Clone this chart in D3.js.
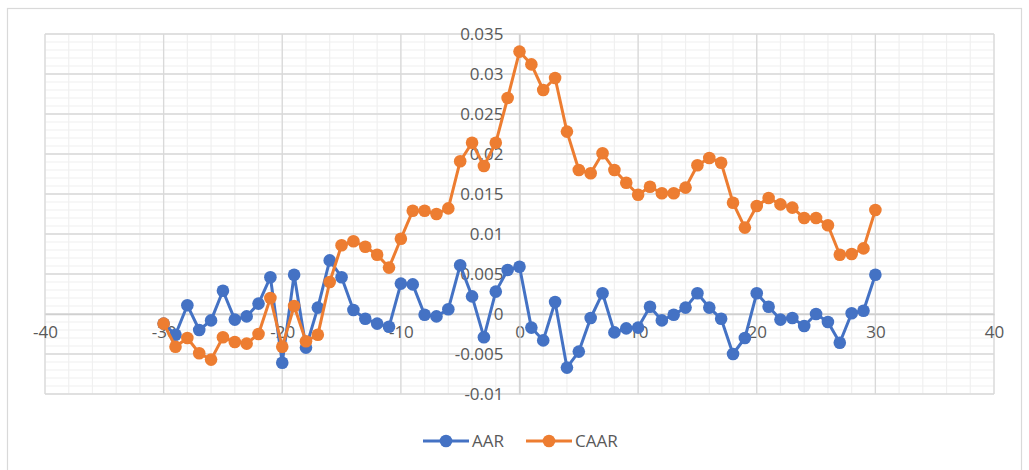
<!DOCTYPE html>
<html>
<head>
<meta charset="utf-8">
<script src="https://cdn.jsdelivr.net/npm/d3@7"></script>
<style>
  html, body { margin: 0; padding: 0; background: #fff; }
  svg { display: block; }
  text { font-family: "Open Sans", "Liberation Sans", sans-serif; fill: #595959; }
</style>
</head>
<body>
<svg id="chart" width="1029" height="470"></svg>
<script>
// Event window (days relative to the event)
const days = d3.range(-30, 31);

// Average abnormal return per day
const aar = [
  -0.0012, -0.0026, 0.0011, -0.0020, -0.0008, 0.0029, -0.0007, -0.0003, 0.0013, 0.0046,
  -0.0061, 0.0049, -0.0042, 0.0008, 0.0067, 0.0046, 0.0005, -0.0006, -0.0012, -0.0016,
  0.0038, 0.0037, -0.0001, -0.0003, 0.0006, 0.0061, 0.0022, -0.0029, 0.0028, 0.0055,
  0.0059,
  -0.0017, -0.0033, 0.0015, -0.0067, -0.0047, -0.0005, 0.0026, -0.0023, -0.0018, -0.0017,
  0.0009, -0.0008, -0.0001, 0.0008, 0.0026, 0.0008, -0.0006, -0.0050, -0.0030, 0.0026,
  0.0009, -0.0007, -0.0005, -0.0015, 0.0000, -0.0010, -0.0036, 0.0001, 0.0004, 0.0049
];

// Cumulative average abnormal return per day
const caar = [
  -0.0012, -0.0041, -0.0030, -0.0049, -0.0057, -0.0029, -0.0035, -0.0037, -0.0025, 0.0020,
  -0.0041, 0.0010, -0.0034, -0.0026, 0.0040, 0.0086, 0.0091, 0.0084, 0.0074, 0.0058,
  0.0094, 0.0129, 0.0129, 0.0125, 0.0132, 0.0191, 0.0214, 0.0185, 0.0214, 0.0270,
  0.0328,
  0.0312, 0.0280, 0.0295, 0.0228, 0.0180, 0.0176, 0.0201, 0.0180, 0.0164, 0.0149,
  0.0159, 0.0151, 0.0151, 0.0158, 0.0186, 0.0195, 0.0189, 0.0139, 0.0108, 0.0135,
  0.0145, 0.0137, 0.0133, 0.0120, 0.0120, 0.0111, 0.0074, 0.0075, 0.0082, 0.0130
];

const xTicks = [-40, -30, -20, -10, 0, 10, 20, 30, 40];
const xTickLabels = ["-40", "-30", "-20", "-10", "0", "10", "20", "30", "40"];
const yTicks = [-0.01, -0.005, 0, 0.005, 0.01, 0.015, 0.02, 0.025, 0.03, 0.035];
const yTickLabels = ["-0.01", "-0.005", "0", "0.005", "0.01", "0.015", "0.02", "0.025", "0.03", "0.035"];

const seriesNames = ["AAR", "CAAR"];
const seriesColors = ["#4472C4", "#ED7D31"];

const svg = d3.select("#chart");

// Chart frame
svg.append("rect")
  .attr("x", 7.5).attr("y", 8.5)
  .attr("width", 1014).attr("height", 480)
  .attr("fill", "#fff")
  .attr("stroke", "#d9d9d9")
  .attr("stroke-width", 1.2);

const x = d3.scaleLinear().domain([-40, 40]).range([45, 994]);
const y = d3.scaleLinear().domain([-0.01, 0.035]).range([394, 34]);

// Minor gridlines
const grid = svg.append("g");
grid.selectAll(".vminor")
  .data(d3.range(-40, 41, 2))
  .join("line")
  .attr("x1", d => x(d)).attr("x2", d => x(d))
  .attr("y1", y(0.035)).attr("y2", y(-0.01))
  .attr("stroke", "#f0f0f0").attr("stroke-width", 1.2);
grid.selectAll(".hminor")
  .data(d3.range(-10, 36, 1).map(v => v / 1000))
  .join("line")
  .attr("x1", x(-40)).attr("x2", x(40))
  .attr("y1", d => y(d)).attr("y2", d => y(d))
  .attr("stroke", "#f0f0f0").attr("stroke-width", 1.2);

// Major gridlines
grid.selectAll(".vmajor")
  .data(xTicks)
  .join("line")
  .attr("x1", d => x(d)).attr("x2", d => x(d))
  .attr("y1", y(0.035)).attr("y2", y(-0.01))
  .attr("stroke", "#d9d9d9").attr("stroke-width", 1.3);
grid.selectAll(".hmajor")
  .data(yTicks)
  .join("line")
  .attr("x1", x(-40)).attr("x2", x(40))
  .attr("y1", d => y(d)).attr("y2", d => y(d))
  .attr("stroke", "#d9d9d9").attr("stroke-width", 1.3);

// Axes crossing at the origin
const xAxis = d3.axisBottom(x).tickValues(xTicks).tickSize(0).tickPadding(12)
  .tickFormat((d, i) => xTickLabels[i]);
const xg = svg.append("g").attr("transform", `translate(0,${y(0)})`).call(xAxis);
xg.select(".domain").attr("stroke", "#d0d0d0").attr("stroke-width", 1.3);
xg.selectAll("text").attr("font-size", 17).attr("fill", "#595959")
  .attr("font-family", "Open Sans, Liberation Sans, sans-serif");

const yAxis = d3.axisLeft(y).tickValues(yTicks).tickSize(0).tickPadding(16)
  .tickFormat((d, i) => yTickLabels[i]);
const yg = svg.append("g").attr("transform", `translate(${x(0)},0)`).call(yAxis);
yg.select(".domain").attr("stroke", "#d0d0d0").attr("stroke-width", 1.3);
yg.selectAll("text").attr("font-size", 17).attr("fill", "#595959")
  .attr("font-family", "Open Sans, Liberation Sans, sans-serif");

// Series lines with markers
const seriesData = [aar, caar];
const line = d3.line().x((d, i) => x(days[i])).y(d => y(d));

seriesData.forEach((vals, s) => {
  const g = svg.append("g");
  g.append("path")
    .datum(vals)
    .attr("d", line)
    .attr("fill", "none")
    .attr("stroke", seriesColors[s])
    .attr("stroke-width", 3)
    .attr("stroke-linejoin", "round");
  g.selectAll("circle")
    .data(vals)
    .join("circle")
    .attr("cx", (d, i) => x(days[i]))
    .attr("cy", d => y(d))
    .attr("r", 6.3)
    .attr("fill", seriesColors[s]);
});

// Legend
const legend = svg.append("g").attr("transform", "translate(0,441)");
const legendX = [423, 526];
seriesNames.forEach((name, s) => {
  const lg = legend.append("g").attr("transform", `translate(${legendX[s]},0)`);
  lg.append("line").attr("x1", 0).attr("x2", 46).attr("y1", 0).attr("y2", 0)
    .attr("stroke", seriesColors[s]).attr("stroke-width", 3);
  lg.append("circle").attr("cx", 23).attr("cy", 0).attr("r", 6.3).attr("fill", seriesColors[s]);
  lg.append("text").attr("x", 49).attr("y", 0).attr("dy", "0.36em")
    .attr("font-size", 17).text(name);
});
</script>
</body>
</html>
